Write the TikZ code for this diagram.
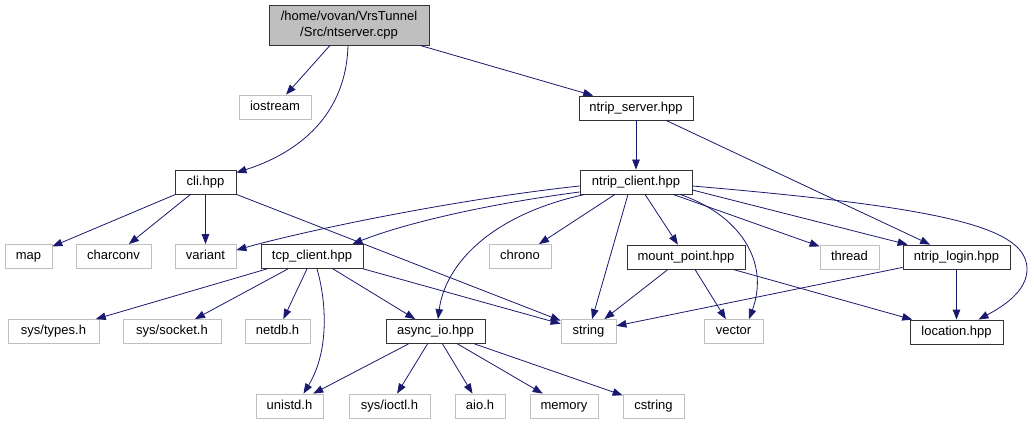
\documentclass[tikz,border=0pt]{standalone}
\usepackage{fontspec}
\setmainfont{Liberation Sans}
\usetikzlibrary{arrows.meta}
\definecolor{extgray}{HTML}{BFBFBF}
\definecolor{edgeblue}{HTML}{191970}
\begin{document}
\begin{tikzpicture}[x=1pt,y=-1pt,
  box/.style={rectangle, inner sep=0pt, minimum height=24pt, text height=9.5pt, text depth=3pt, font=\fontsize{13}{15.5}\selectfont, line width=0.8pt},
  ext/.style={box, draw=extgray},
  int/.style={box, draw=black!80},
  rootbox/.style={rectangle, inner sep=0pt, font=\fontsize{13}{15.5}\selectfont, line width=0.8pt, draw=black!80, fill=extgray, align=center, minimum height=40pt},
  edge/.style={draw=edgeblue, line width=0.8pt, -{Triangle[length=10pt,width=7.5pt]}}
]
\fill[white] (0,0) rectangle (1034,425);
\useasboundingbox (0,0) rectangle (1034,425);

% nodes
\node[rootbox, minimum width=160pt] (root) at (349,25) {/home/vovan/VrsTunnel\\/Src/ntserver.cpp};
\node[ext, minimum width=72pt] (iostream) at (275,107) {iostream};
\node[int, minimum width=114pt] (nserver) at (636,108) {ntrip\_server.hpp};
\node[int, minimum width=61pt] (cli) at (205.5,182) {cli.hpp};
\node[int, minimum width=112pt] (nclient) at (636,182) {ntrip\_client.hpp};
\node[ext, minimum width=47pt] (map) at (28.5,256.5) {map};
\node[ext, minimum width=75pt] (charconv) at (113.5,256.5) {charconv};
\node[ext, minimum width=61pt] (variant) at (205.5,256.5) {variant};
\node[int, minimum width=102pt] (tcp) at (312,256.5) {tcp\_client.hpp};
\node[ext, minimum width=62pt] (chrono) at (520,256.5) {chrono};
\node[int, minimum width=118pt] (mount) at (686,257) {mount\_point.hpp};
\node[ext, minimum width=59pt] (thread) at (849.5,257) {thread};
\node[int, minimum width=107pt] (login) at (956.5,257) {ntrip\_login.hpp};
\node[ext, minimum width=91pt] (systypes) at (53.5,331.5) {sys/types.h};
\node[ext, minimum width=98pt] (syssocket) at (172,331.5) {sys/socket.h};
\node[ext, minimum width=65pt] (netdb) at (277.5,331.5) {netdb.h};
\node[int, minimum width=99pt] (async) at (435.5,331.5) {async\_io.hpp};
\node[ext, minimum width=55pt] (string) at (588.5,331.5) {string};
\node[ext, minimum width=59pt] (vector) at (733.5,331.5) {vector};
\node[int, minimum width=93pt] (location) at (956.5,332) {location.hpp};
\node[ext, minimum width=67pt] (unistd) at (289.5,406) {unistd.h};
\node[ext, minimum width=81pt] (sysioctl) at (389.5,406) {sys/ioctl.h};
\node[ext, minimum width=50pt] (aio) at (480,406) {aio.h};
\node[ext, minimum width=68pt] (memory) at (564,406) {memory};
\node[ext, minimum width=61pt] (cstring) at (653.5,406) {cstring};

% edges from root
\draw[edge] ([xshift=-19pt]root.south) -- (iostream);
\draw[edge] ([xshift=-1pt]root.south) .. controls (346,120) and (292,155) .. ([yshift=-3pt]cli.north east);
\draw[edge] ([xshift=71pt]root.south) -- (nserver);

% ntrip_server
\draw[edge] (nserver) -- (nclient);
\draw[edge] ([xshift=30pt]nserver.south) -- (login);

% cli
\draw[edge] ([xshift=1pt]cli.south west) -- (map);
\draw[edge] ([xshift=-15pt]cli.south) -- (charconv);
\draw[edge] (cli) -- (variant);
\draw[edge] (cli.south east) -- (string);

% ntrip_client
\draw[edge] ([yshift=-4pt]nclient.west) .. controls (450,200) and (300,232) .. ([yshift=-6pt]variant.north east);
\draw[edge] ([yshift=-10pt]nclient.west) .. controls (480,205) and (400,225) .. ([xshift=-11pt]tcp.north east);
\draw[edge] ([xshift=-51pt]nclient.south) .. controls (490,215) and (445,265) .. ([xshift=2.5pt]async.north);
\draw[edge] ([xshift=-21pt]nclient.south) -- (chrono);
\draw[edge] ([xshift=-8pt]nclient.south) -- (string);
\draw[edge] ([xshift=9pt]nclient.south) -- (mount);
\draw[edge] ([xshift=44pt]nclient.south) .. controls (740,215) and (770,262) .. ([xshift=15.5pt]vector.north);
\draw[edge] ([xshift=37pt]nclient.south) -- (thread);
\draw[edge] ([yshift=-8pt]nclient.east) -- (login);
\draw[edge] ([yshift=-4pt]nclient.east) .. controls (950,208) and (1025,228) .. (1027,268)
  .. controls (1028,292) and (1000,308) .. ([xshift=22pt]location.north);

% ntrip_login
\draw[edge] (login) -- (location);
\draw[edge] ([yshift=2pt]login.south west) -- (string);

% mount_point
\draw[edge] ([xshift=-18pt]mount.south) -- (string);
\draw[edge] ([xshift=9pt]mount.south) -- (vector);
\draw[edge] ([xshift=47pt]mount.south) -- (location);

% tcp_client
\draw[edge] ([xshift=-45pt]tcp.south) -- (systypes);
\draw[edge] ([xshift=-24pt]tcp.south) -- (syssocket);
\draw[edge] ([xshift=-5pt]tcp.south) -- (netdb);
\draw[edge] ([xshift=5pt]tcp.south) .. controls (326,300) and (330,350) .. ([xshift=14pt]unistd.north);
\draw[edge] ([xshift=21pt]tcp.south) -- (async);
\draw[edge] (tcp.south east) -- (string);

% async_io
\draw[edge] ([xshift=-27pt]async.south) -- (unistd);
\draw[edge] ([xshift=-8pt]async.south) -- (sysioctl);
\draw[edge] ([xshift=7pt]async.south) -- (aio);
\draw[edge] ([xshift=22pt]async.south) -- (memory);
\draw[edge] ([xshift=39pt]async.south) -- (cstring);
\end{tikzpicture}
\end{document}
